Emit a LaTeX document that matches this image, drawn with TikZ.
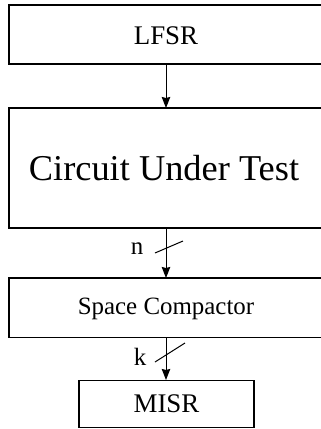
\documentclass[tikz,border=0pt]{standalone}
\usepackage{fontspec}
\setmainfont{Liberation Serif}
\usetikzlibrary{arrows.meta}
\begin{document}
\begin{tikzpicture}[x=1bp,y=-1bp,
  blk/.style={draw, line width=1.1bp, inner sep=0pt},
  arr/.style={draw, line width=1bp, -{Stealth[length=11bp,width=8.5bp,inset=1bp]}},
  bus/.style={draw, line width=1bp}]
\useasboundingbox (0,0) rectangle (321,429);
% boxes
\draw[blk] (9,5) rectangle (324,64);
\node (lfsr) at (166,36) {\fontsize{27}{30}\selectfont LFSR};
\coordinate (lfsrb) at (166,64);
\draw[blk] (9,108) rectangle (324,228);
\node (cut) at (164,168) {\fontsize{36.5}{40}\selectfont Circuit Under Test};
\coordinate (cutt) at (166,108);
\coordinate (cutb) at (166,228);
\draw[blk] (9,278) rectangle (324,337.5);
\node (sc) at (166,309) {\fontsize{25}{28}\selectfont Space Compactor};
\coordinate (sct) at (166,278);
\coordinate (scb) at (166,337.5);
\node[blk, minimum width=175bp, minimum height=47bp] (misr) at (166.5,404) {\fontsize{27}{30}\selectfont MISR};
% connectors
\draw[arr] (lfsrb) -- (cutt);
\draw[arr] (cutb) -- (sct);
\draw[arr] (scb) -- (misr.north -| scb);
% bus slashes
\coordinate (s1a) at (155,253);
\coordinate (s1b) at (183,241);
\draw[bus] (s1a) -- (s1b);
\coordinate (s2a) at (155,362);
\coordinate (s2b) at (185,343);
\draw[bus] (s2a) -- (s2b);
\node (n) at (137,249) {\fontsize{25}{28}\selectfont n};
\node (k) at (140,357) {\fontsize{25}{28}\selectfont k};
\end{tikzpicture}
\end{document}
